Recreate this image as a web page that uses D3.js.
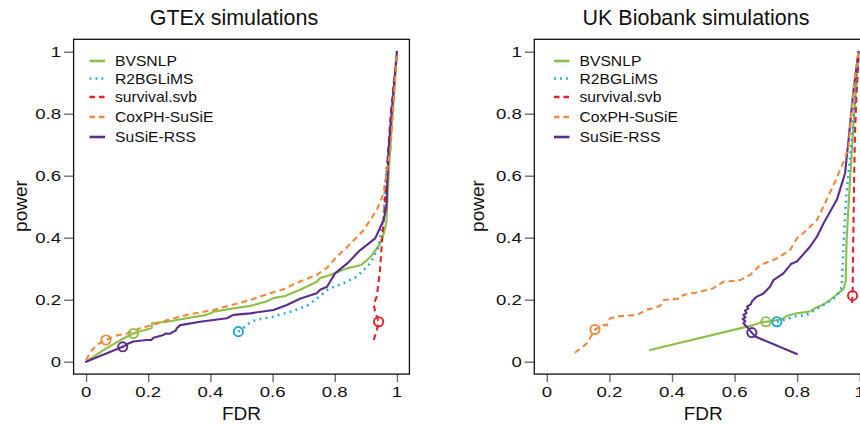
<!DOCTYPE html>
<html>
<head>
<meta charset="utf-8">
<script src="https://cdn.jsdelivr.net/npm/d3@7"></script>
<style>
  html, body { margin: 0; padding: 0; background: #fff; }
  svg { display: block; font-family: "Liberation Sans", Arial, Helvetica, sans-serif; }
</style>
</head>
<body>
<svg id="chart" width="860" height="424"></svg>
<script>
// Method names, drawn in legend order
const methods = ["BVSNLP", "R2BGLiMS", "survival.svb", "CoxPH-SuSiE", "SuSiE-RSS"];
const tickValues = [0, 0.2, 0.4, 0.6, 0.8, 1];
const tickLabels = ["0", "0.2", "0.4", "0.6", "0.8", "1"];
const panelTitles = ["GTEx simulations", "UK Biobank simulations"];

// GTEx simulations: [FDR, power] along each method's curve
const gtexBVSNLP = [[0,0],[0.06,0.04],[0.12,0.075],[0.152,0.091],[0.18,0.1],[0.211,0.108],[0.212,0.124],[0.26,0.129],[0.324,0.14],[0.388,0.151],[0.41,0.161],[0.474,0.172],[0.528,0.18],[0.58,0.194],[0.603,0.205],[0.64,0.212],[0.689,0.232],[0.742,0.258],[0.753,0.27],[0.785,0.28],[0.839,0.301],[0.885,0.312],[0.914,0.337],[0.941,0.373],[0.957,0.412],[0.966,0.45],[0.973,0.6],[0.981,0.73],[0.99,0.86],[1,1]];
const gtexR2BGLiMS = [[0.49,0.097],[0.51,0.112],[0.522,0.122],[0.54,0.132],[0.56,0.137],[0.6,0.145],[0.66,0.162],[0.71,0.18],[0.748,0.208],[0.78,0.235],[0.828,0.253],[0.871,0.274],[0.914,0.317],[0.941,0.371],[0.957,0.468],[0.962,0.575],[0.973,0.683],[0.986,0.85],[1,1]];
const gtexSvb = [[0.925,0.07],[0.935,0.1],[0.941,0.129],[0.93,0.16],[0.925,0.185],[0.935,0.21],[0.945,0.29],[0.952,0.39],[0.957,0.45],[0.966,0.6],[0.98,0.8],[1,1]];
const gtexCoxPH = [[0,0.005],[0.015,0.033],[0.04,0.058],[0.064,0.07],[0.1,0.085],[0.131,0.091],[0.174,0.108],[0.22,0.12],[0.26,0.134],[0.324,0.151],[0.41,0.167],[0.45,0.178],[0.496,0.19],[0.528,0.199],[0.56,0.21],[0.592,0.221],[0.64,0.235],[0.667,0.25],[0.742,0.28],[0.775,0.303],[0.807,0.339],[0.84,0.37],[0.893,0.425],[0.935,0.489],[0.957,0.543],[0.968,0.618],[0.979,0.683],[0.99,0.85],[1,1]];
const gtexSuSiE = [[0,0],[0.118,0.048],[0.135,0.058],[0.152,0.065],[0.195,0.07],[0.21,0.07],[0.217,0.077],[0.249,0.086],[0.255,0.091],[0.27,0.09],[0.281,0.097],[0.288,0.1],[0.292,0.108],[0.303,0.118],[0.367,0.129],[0.453,0.14],[0.474,0.151],[0.528,0.156],[0.603,0.167],[0.646,0.183],[0.69,0.204],[0.742,0.221],[0.753,0.232],[0.775,0.242],[0.801,0.285],[0.84,0.317],[0.882,0.36],[0.93,0.398],[0.957,0.457],[0.966,0.5],[0.973,0.683],[0.987,0.85],[1,1]];
// GTEx: highlighted operating point of each method
const gtexMarks = [[0.152,0.091],[0.49,0.097],[0.941,0.129],[0.064,0.07],[0.118,0.048]];

// UK Biobank simulations: [FDR, power] along each method's curve
const ukbBVSNLP = [[0.33,0.038],[0.66,0.118],[0.682,0.126],[0.70,0.129],[0.74,0.135],[0.756,0.14],[0.767,0.148],[0.799,0.156],[0.841,0.162],[0.852,0.17],[0.884,0.185],[0.905,0.199],[0.921,0.212],[0.948,0.235],[0.955,0.26],[0.958,0.393],[0.964,0.5],[0.969,0.587],[0.98,0.77],[0.996,1]];
const ukbR2BGLiMS = [[0.735,0.129],[0.765,0.137],[0.788,0.145],[0.831,0.151],[0.884,0.183],[0.926,0.21],[0.942,0.24],[0.944,0.285],[0.948,0.371],[0.953,0.468],[0.958,0.55],[0.964,0.608],[0.974,0.715],[0.985,0.85],[0.996,1]];
const ukbSvb = [[0.975,0.19],[0.977,0.213],[0.978,0.3],[0.98,0.45],[0.982,0.6],[0.985,0.75],[0.99,0.87],[0.997,1]];
const ukbCoxPH = [[0.09,0.029],[0.128,0.059],[0.154,0.104],[0.181,0.118],[0.192,0.118],[0.202,0.14],[0.234,0.147],[0.288,0.151],[0.319,0.167],[0.362,0.18],[0.373,0.199],[0.426,0.204],[0.436,0.215],[0.479,0.223],[0.532,0.237],[0.564,0.258],[0.618,0.263],[0.65,0.28],[0.682,0.312],[0.735,0.333],[0.777,0.36],[0.799,0.398],[0.831,0.425],[0.863,0.457],[0.889,0.511],[0.921,0.581],[0.953,0.656],[0.964,0.694],[0.974,0.812],[0.985,0.919],[0.996,1]];
const ukbSuSiE = [[0.799,0.025],[0.666,0.081],[0.655,0.094],[0.639,0.113],[0.628,0.124],[0.634,0.131],[0.626,0.138],[0.635,0.143],[0.628,0.151],[0.638,0.157],[0.633,0.165],[0.644,0.171],[0.64,0.178],[0.652,0.186],[0.655,0.194],[0.671,0.21],[0.692,0.22],[0.713,0.242],[0.724,0.263],[0.756,0.285],[0.78,0.315],[0.799,0.323],[0.841,0.371],[0.863,0.403],[0.884,0.446],[0.927,0.523],[0.953,0.608],[0.964,0.715],[0.98,0.877],[0.996,1]];
const ukbMarks = [[0.70,0.129],[0.735,0.129],[0.977,0.213],[0.154,0.104],[0.655,0.094]];

// Line styles per method (same order as `methods`)
const styles = [
  { color: "#8cbf46", dash: null,      legendDash: null,      width: 2.1 },
  { color: "#16a8e0", dash: "1.8,4.4", legendDash: "1.8,4.2", width: 2.5 },
  { color: "#e8202a", dash: "6,4",     legendDash: "5.5,4",   width: 2.1 },
  { color: "#f2873a", dash: "6,4",     legendDash: "5.5,4",   width: 2.1 },
  { color: "#5b2d90", dash: null,      legendDash: null,      width: 2.1 }
];
// Drawing order so that the orange dashes sit on top
const drawOrder = [0, 1, 2, 4, 3];

const panels = [
  { title: panelTitles[0], curves: [gtexBVSNLP, gtexR2BGLiMS, gtexSvb, gtexCoxPH, gtexSuSiE], marks: gtexMarks,
    left: 73.6, right: 409.4, titleX: 234, yTitleX: 20, legendX: 89.5 },
  { title: panelTitles[1], curves: [ukbBVSNLP, ukbR2BGLiMS, ukbSvb, ukbCoxPH, ukbSuSiE], marks: ukbMarks,
    left: 534.3, right: 872.3, titleX: 696, yTitleX: 477, legendX: 554 }
];

const svg = d3.select("#chart");
const plotTop = 39.3, plotBottom = 374.1;

// Text with a slight horizontal stretch, as in the original device fonts
function label(g, x, y, str, size, sx, anchor) {
  return g.append("text")
    .attr("transform", `translate(${x},${y}) scale(${sx},1)`)
    .attr("font-size", size)
    .attr("text-anchor", anchor || "start")
    .attr("fill", "#111")
    .text(str);
}

panels.forEach(p => {
  const g = svg.append("g");
  const x = d3.scaleLinear().domain([-0.04, 1.04]).range([p.left, p.right]);
  const y = d3.scaleLinear().domain([-0.04, 1.04]).range([plotBottom, plotTop]);

  // Title
  g.append("text").attr("x", p.titleX).attr("y", 25)
    .attr("text-anchor", "middle").attr("font-size", 21.5).attr("fill", "#111")
    .text(p.title);

  // Outward ticks from d3 axes; labels are placed separately
  const xAxis = d3.axisBottom(x).tickValues(tickValues).tickSize(8).tickFormat("");
  const yAxis = d3.axisLeft(y).tickValues(tickValues).tickSize(9.5).tickFormat("");
  const gx = g.append("g").attr("transform", `translate(0,${plotBottom})`).call(xAxis);
  const gy = g.append("g").attr("transform", `translate(${p.left},0)`).call(yAxis);
  [gx, gy].forEach(a => {
    a.select(".domain").remove();
    a.selectAll(".tick line").attr("stroke", "#6d6d6d").attr("stroke-width", 1.4);
  });
  tickValues.forEach((v, i) => {
    label(g, x(v), 397, tickLabels[i], 15.5, 1.2, "middle");
    label(g, p.left - 12.5, y(v) + 5.4, tickLabels[i], 15.5, 1.2, "end");
  });

  // Axis titles
  g.append("text").attr("x", (p.left + p.right) / 2).attr("y", 420)
    .attr("text-anchor", "middle").attr("font-size", 19).attr("fill", "#111").text("FDR");
  g.append("text").attr("transform", `translate(${p.yTitleX + 6.5},206) rotate(-90)`)
    .attr("text-anchor", "middle").attr("font-size", 19).attr("fill", "#111").text("power");

  // Curves
  const line = d3.line().x(d => x(d[0])).y(d => y(d[1]));
  drawOrder.forEach(i => {
    const s = styles[i];
    g.append("path").datum(p.curves[i])
      .attr("d", line)
      .attr("fill", "none")
      .attr("stroke", s.color)
      .attr("stroke-width", s.width)
      .attr("stroke-dasharray", s.dash)
      .attr("stroke-linejoin", "round")
      .attr("stroke-linecap", s.dash ? "butt" : "round");
  });

  // Operating points
  g.selectAll("circle.mark").data(p.marks).join("circle")
    .attr("class", "mark")
    .attr("cx", d => x(d[0])).attr("cy", d => y(d[1])).attr("r", 4.6)
    .attr("fill", "none")
    .attr("stroke", (d, i) => styles[i].color)
    .attr("stroke-width", 1.9);

  // Plot frame
  g.append("rect").attr("x", p.left).attr("y", plotTop)
    .attr("width", p.right - p.left).attr("height", plotBottom - plotTop)
    .attr("fill", "none").attr("stroke", "#111").attr("stroke-width", 1.3);

  // Legend
  const rows = [61, 78.5, 97, 117, 137];
  methods.forEach((m, i) => {
    const s = styles[i];
    g.append("line")
      .attr("x1", p.legendX).attr("x2", p.legendX + 15.5)
      .attr("y1", rows[i]).attr("y2", rows[i])
      .attr("stroke", s.color).attr("stroke-width", 2.6)
      .attr("stroke-dasharray", s.legendDash);
    label(g, p.legendX + 25.5, rows[i] + 5, m, 14, 1.12, "start");
  });
});
</script>
</body>
</html>
